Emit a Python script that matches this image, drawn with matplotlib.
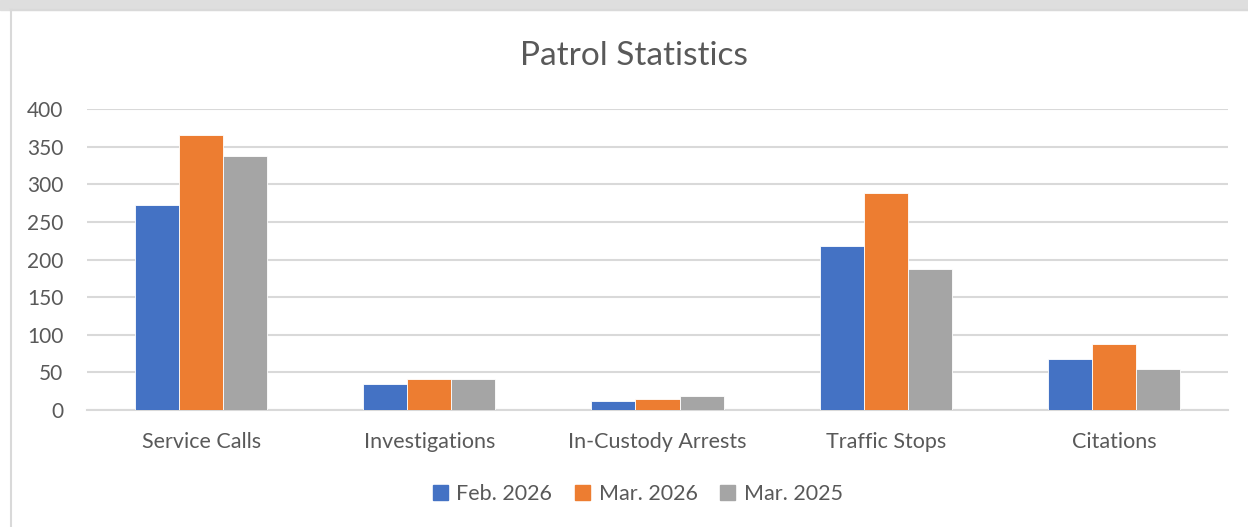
import numpy as np
import matplotlib
matplotlib.use('Agg')
from matplotlib import pyplot as plt
from matplotlib.patches import Rectangle
from matplotlib.lines import Line2D

categories = ['Service Calls', 'Investigations', 'In-Custody Arrests', 'Traffic Stops', 'Citations']
series_names = ['Feb. 2026', 'Mar. 2026', 'Mar. 2025']
feb_2026 = [272, 35, 12, 218, 68]
mar_2026 = [366, 41, 14, 288, 88]
mar_2025 = [338, 41, 19, 188, 54]
colors = ['#4472c4', '#ed7d31', '#a5a5a5']

plt.rcParams['font.family'] = ['Lato', 'DejaVu Sans']
text_color = '#595959'

fig = plt.figure(figsize=(12.48, 5.27), dpi=100)
ax = fig.add_axes([87 / 1248, 1 - 410 / 527, (1228 - 87) / 1248, 301 / 527])

x = np.arange(len(categories))
width = 0.193
for i, vals in enumerate([feb_2026, mar_2026, mar_2025]):
    ax.bar(x + (i - 1) * width, vals, width, color=colors[i],
           edgecolor='white', linewidth=0.6, label=series_names[i], zorder=3)

ax.set_xlim(-0.5, len(categories) - 0.5)
ax.set_ylim(0, 400)
ax.set_yticks(np.arange(0, 401, 50))
ax.set_xticks(x)
ax.set_xticklabels(categories)
ax.yaxis.grid(True, color='#d9d9d9', linewidth=1.5, zorder=0)
ax.set_axisbelow(True)
for s in ['top', 'right', 'left']:
    ax.spines[s].set_visible(False)
ax.spines['bottom'].set_color('#d9d9d9')
ax.spines['bottom'].set_linewidth(1.5)
ax.tick_params(axis='both', length=0, labelsize=15.5, colors=text_color)
ax.tick_params(axis='y', labelsize=15, pad=17)
ax.tick_params(axis='x', pad=16)

fig.text(0.508, 1 - 56 / 527, 'Patrol Statistics', ha='center', va='center',
         fontsize=24, color=text_color)

handles = [Rectangle((0, 0), 1, 1, color=c) for c in colors]
fig.legend(handles, series_names, loc='center', bbox_to_anchor=(0.511, 1 - 494 / 527),
           ncol=3, frameon=False, fontsize=15.5, handlelength=0.7, handleheight=0.7,
           columnspacing=1.05, handletextpad=0.4, labelcolor=text_color)

# chart frame and faint header strip
fig.patches.append(Rectangle((0, 1 - 10 / 527), 1, 10 / 527, transform=fig.transFigure,
                             color='#dedede', zorder=0))
fig.lines.append(Line2D([11 / 1248, 11 / 1248], [0, 1 - 10 / 527], transform=fig.transFigure,
                        color='#d9d9d9', linewidth=1.5))
fig.lines.append(Line2D([11 / 1248, 1], [1 - 10 / 527, 1 - 10 / 527], transform=fig.transFigure,
                        color='#d9d9d9', linewidth=1.5))

plt.savefig('out.png', dpi=100)
